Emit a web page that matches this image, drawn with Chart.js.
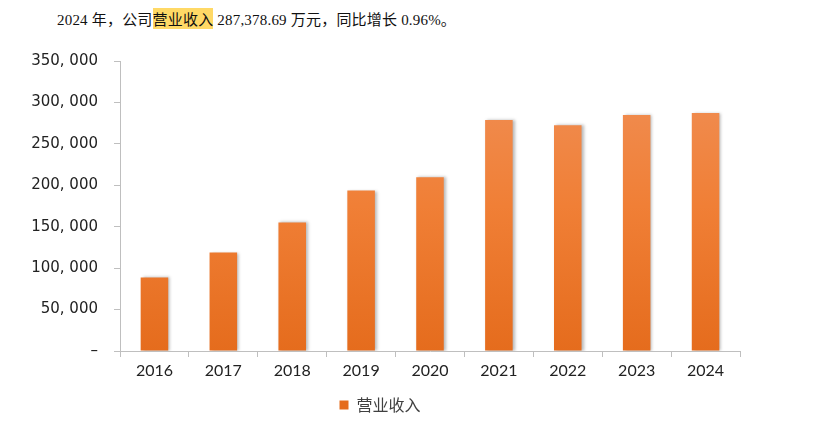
<!DOCTYPE html>
<html>
<head>
<meta charset="utf-8">
<script src="https://cdn.jsdelivr.net/npm/chart.js@4"></script>
<style>
  body { margin: 0; background: #fff; }
  .wrap { position: relative; width: 815px; height: 431px; }
  .note {
    position: absolute; left: 57px; top: 8px;
    font-family: "Liberation Serif", "Noto Sans CJK SC", serif;
    font-size: 15px; color: #111; white-space: nowrap; letter-spacing: 0.2px;
  }
  .note .mark { background: #FFD966; font-family: "Noto Sans CJK SC", sans-serif; }
  canvas { position: absolute; left: 0; top: 0; }
</style>
</head>
<body>
<div class="wrap">
  <div class="note">2024 年，公司<span class="mark">营业收入</span> 287,378.69 万元，同比增长 0.96%。</div>
  <canvas id="c" width="815" height="431"></canvas>
</div>
<script>
const years = ['2016', '2017', '2018', '2019', '2020', '2021', '2022', '2023', '2024'];
const revenue = [88800, 118800, 155200, 193600, 209700, 278700, 272600, 284800, 287378.69];
const yTicks = [0, 50000, 100000, 150000, 200000, 250000, 300000, 350000];

const fmt = (v) => v === 0 ? '–' : v.toLocaleString('en-US').replace(/,/g, ', ');

// soft shadow behind the bars, like the original office chart
const barShadow = {
  id: 'barShadow',
  beforeDatasetsDraw(chart) {
    const ctx = chart.ctx;
    ctx.save();
    ctx.shadowColor = 'rgba(0,0,0,0.28)';
    ctx.shadowBlur = 3;
    ctx.shadowOffsetX = 2;
    ctx.shadowOffsetY = 0;
  },
  afterDatasetsDraw(chart) {
    chart.ctx.restore();
  },
};

const barFill = (context) => {
  const { chart } = context;
  const area = chart.chartArea;
  if (!area) return '#EE7D34';
  const g = chart.ctx.createLinearGradient(0, area.top, 0, area.bottom);
  g.addColorStop(0, '#F09058');
  g.addColorStop(0.5, '#F07F36');
  g.addColorStop(1, '#E56C1D');
  return g;
};

new Chart(document.getElementById('c'), {
  type: 'bar',
  data: {
    labels: years,
    datasets: [{
      label: '营业收入',
      data: revenue,
      backgroundColor: barFill,
      borderWidth: 0,
      barPercentage: 0.4,
      categoryPercentage: 1,
    }],
  },
  plugins: [barShadow],
  options: {
    responsive: false,
    animation: false,
    devicePixelRatio: 1,
    layout: { padding: { left: 20, right: 75, top: 61, bottom: 8 } },
    scales: {
      x: {
        grid: { drawOnChartArea: false, color: '#BFBFBF', tickLength: 6 },
        border: { color: '#BFBFBF' },
        ticks: { color: '#222', font: { family: 'Lato', size: 16 }, padding: 4 },
        afterFit: (s) => { s.height = 40; },
      },
      y: {
        min: 0,
        max: 350000,
        afterBuildTicks: (s) => { s.ticks = yTicks.map((v) => ({ value: v })); },
        grid: { drawOnChartArea: false, color: '#BFBFBF', tickLength: 6 },
        border: { color: '#BFBFBF' },
        ticks: {
          color: '#222',
          font: { family: 'DejaVu Sans', size: 15 },
          padding: 16,
          callback: (v) => fmt(v),
        },
        afterFit: (s) => { s.width = 100; },
      },
    },
    plugins: {
      legend: {
        position: 'bottom',
        labels: {
          boxWidth: 9,
          boxHeight: 9,
          padding: 6,
          color: '#404040',
          font: { family: 'Noto Sans CJK SC', size: 16 },
        },
      },
      tooltip: { enabled: false },
    },
  },
});
</script>
</body>
</html>
